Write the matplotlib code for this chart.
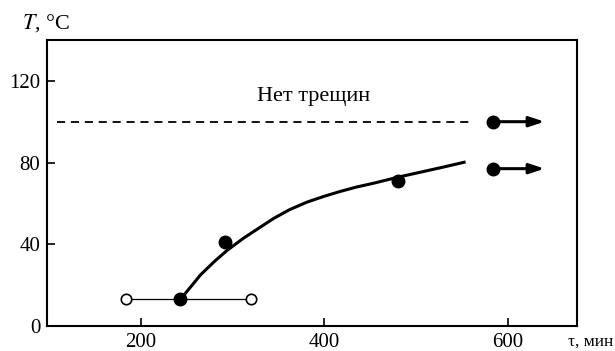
import numpy as np
import matplotlib
matplotlib.use('Agg')
import matplotlib.pyplot as plt

plt.rcParams['font.family'] = ['Liberation Serif', 'DejaVu Serif']
plt.rcParams['mathtext.fontset'] = 'stix'

# fitted curve
curve_tau = [243, 255, 265, 280, 294, 312, 330, 345, 362, 381, 400, 417, 435,
             454, 480, 504, 530, 554]
curve_T = [13, 19.5, 25, 31.5, 37, 43, 48.3, 52.7, 56.9, 60.6, 63.5, 65.8,
           68, 69.9, 72.8, 75.2, 77.8, 80.3]

# measured points (cracks)
pts_tau = [243, 292, 480]
pts_T = [13, 41, 71]

# no-crack points (arrows to the right)
nc_tau = [584, 584]
nc_T = [100, 77]
arrow_end = 640

# scatter range at the lowest temperature
range_tau = [184, 320]
range_T = [13, 13]

dash_tau = [109, 559]
dash_T = 100

fig = plt.figure(figsize=(6.15, 3.51), dpi=100)
ax = fig.add_axes([0.077, 0.0715, 0.862, 0.8145])

ax.plot(range_tau, range_T, color='black', lw=0.9, zorder=2)
ax.plot(range_tau, range_T, 'o', mfc='white', mec='black', mew=1.2, ms=7.5, zorder=3)
ax.plot(curve_tau, curve_T, color='black', lw=2.2, solid_capstyle='butt',
        solid_joinstyle='round', zorder=2)
ax.plot(pts_tau, pts_T, 'o', color='black', ms=9, zorder=4)
ax.plot(dash_tau, [dash_T, dash_T], color='black', lw=1.3, dashes=(4.5, 3.2))
ax.plot(nc_tau, nc_T, 'o', color='black', ms=9, zorder=4)
for t, T in zip(nc_tau, nc_T):
    ax.annotate('', xy=(arrow_end, T), xytext=(t + 6, T),
                arrowprops=dict(arrowstyle='-|>,head_length=0.9,head_width=0.3',
                                color='black', lw=2.2, shrinkA=0, shrinkB=0))

ax.text(388, 112.5, 'Нет трещин', ha='center', va='center', fontsize=16)

ax.set_xlim(98, 676)
ax.set_ylim(0, 140)
ax.set_xticks([200, 400, 600])
ax.set_yticks([0, 40, 80, 120])
ax.tick_params(direction='in', length=6, width=1.2, labelsize=15,
               top=False, right=False, pad=5)
for s in ax.spines.values():
    s.set_linewidth(1.5)

fig.text(0.036, 0.935, r'$T$, °C', fontsize=16, va='center', ha='left')
fig.text(0.997, 0.028, 'τ, мин', fontsize=12.5, va='center', ha='right')

fig.savefig('out.png', dpi=100)
